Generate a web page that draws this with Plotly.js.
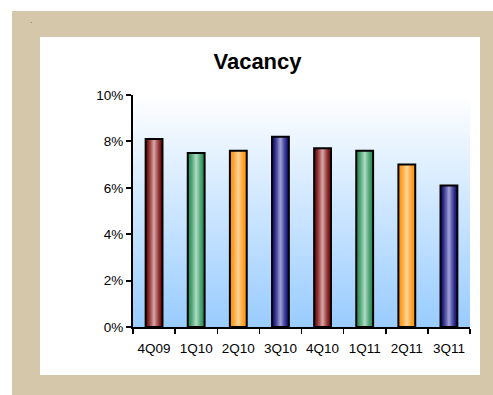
<!DOCTYPE html>
<html>
<head>
<meta charset="utf-8">
<script src="https://cdn.plot.ly/plotly-3.0.1.min.js"></script>
<style>
html,body{margin:0;padding:0;background:#fff;}
#chart{width:493px;height:395px;}
</style>
</head>
<body>
<div id="chart"></div>
<script>
// ---- data ----
var categories = ['4Q09', '1Q10', '2Q10', '3Q10', '4Q10', '1Q11', '2Q11', '3Q11'];
var vacancy = [8.1, 7.5, 7.6, 8.2, 7.7, 7.6, 7.0, 6.1];
var yTickVals = [0, 2, 4, 6, 8, 10];
var yTickText = ['0%', '2%', '4%', '6%', '8%', '10%'];

// ---- style ----
var W = 493, H = 395;
var M = {l: 133, r: 23, t: 95, b: 68};
var PW = W - M.l - M.r, PH = H - M.t - M.b;
var FONT = 'Liberation Sans, Arial, sans-serif';

// edge / centre colours of the cylindrical bars (cycled)
var edgeCols = [[112, 8, 10], [40, 140, 85], [255, 146, 12], [16, 16, 116]];
var centreCols = [[214, 160, 160], [168, 216, 190], [255, 210, 146], [156, 156, 212]];

function mix(a, b, t) {
  return 'rgb(' + Math.round(a[0] + (b[0] - a[0]) * t) + ',' +
    Math.round(a[1] + (b[1] - a[1]) * t) + ',' +
    Math.round(a[2] + (b[2] - a[2]) * t) + ')';
}

var BAR_W = 0.4;
var N = 10;
var traces = [];
for (var k = 0; k < N; k++) {
  var f = k / N;
  var t = Math.pow(f / ((N - 1) / N), 1.4);
  var cols = categories.map(function (c, i) {
    return mix(edgeCols[i % 4], centreCols[i % 4], t);
  });
  traces.push({
    type: 'bar', x: categories, y: vacancy,
    width: BAR_W * (1 - f),
    marker: {color: cols, line: {width: 0}},
    hoverinfo: 'skip', showlegend: false
  });
}
// outline on top
traces.push({
  type: 'bar', x: categories, y: vacancy, width: BAR_W,
  marker: {color: 'rgba(0,0,0,0)', line: {color: '#000', width: 2}},
  hoverinfo: 'skip', showlegend: false
});

// ---- background (frame + plot gradient) drawn to a canvas ----
var cv = document.createElement('canvas');
cv.width = W; cv.height = H;
var ctx = cv.getContext('2d');
ctx.fillStyle = '#ffffff'; ctx.fillRect(0, 0, W, H);
ctx.fillStyle = '#D5C7AA'; ctx.fillRect(12, 11, W - 12, H - 11);
ctx.fillStyle = '#ffffff'; ctx.fillRect(40, 37, 440, 338);
var g = ctx.createLinearGradient(0, M.t, 0, M.t + PH);
g.addColorStop(0, '#ffffff');
g.addColorStop(1, '#99CCFF');
ctx.fillStyle = g; ctx.fillRect(M.l, M.t, PW, PH);

function px(x) { return (x - M.l) / PW; }
function py(y) { return (M.t + PH - y) / PH; }

var layout = {
  width: W, height: H,
  margin: M,
  paper_bgcolor: 'rgba(0,0,0,0)',
  plot_bgcolor: 'rgba(0,0,0,0)',
  barmode: 'overlay',
  font: {family: FONT, color: '#000', size: 13.5},
  title: {
    text: '<b>Vacancy</b>',
    font: {family: FONT, size: 22, color: '#000'},
    xref: 'container', yref: 'container',
    x: 257.5 / W, y: 1 - 61 / H, xanchor: 'center', yanchor: 'middle'
  },
  xaxis: {
    type: 'category', range: [-0.5, 7.5],
    showline: true, linecolor: '#000', linewidth: 2,
    ticks: 'outside', tickson: 'boundaries', ticklen: 5, tickwidth: 1.5, tickcolor: '#000',
    showgrid: false, zeroline: false,
    tickangle: 0, ticklabelstandoff: 8,
    tickfont: {family: FONT, size: 13.5, color: '#000'},
    fixedrange: true
  },
  yaxis: {
    range: [0, 10],
    tickvals: yTickVals, ticktext: yTickText,
    showline: true, linecolor: '#000', linewidth: 2,
    ticks: 'outside', ticklen: 5, tickwidth: 2, tickcolor: '#000',
    showgrid: false, zeroline: false,
    tickfont: {family: FONT, size: 13.5, color: '#000'},
    fixedrange: true
  },
  images: [{
    source: cv.toDataURL('image/png'),
    xref: 'paper', yref: 'paper',
    x: px(0), y: py(0), sizex: W / PW, sizey: H / PH,
    xanchor: 'left', yanchor: 'top', sizing: 'stretch', layer: 'below'
  }],
  annotations: [{
    text: '.', showarrow: false, xref: 'paper', yref: 'paper',
    x: px(31), y: py(27), xanchor: 'center', yanchor: 'bottom',
    font: {family: FONT, size: 9, color: '#777'}
  }]
};

Plotly.newPlot('chart', traces, layout, {displayModeBar: false, staticPlot: true});
</script>
</body>
</html>
